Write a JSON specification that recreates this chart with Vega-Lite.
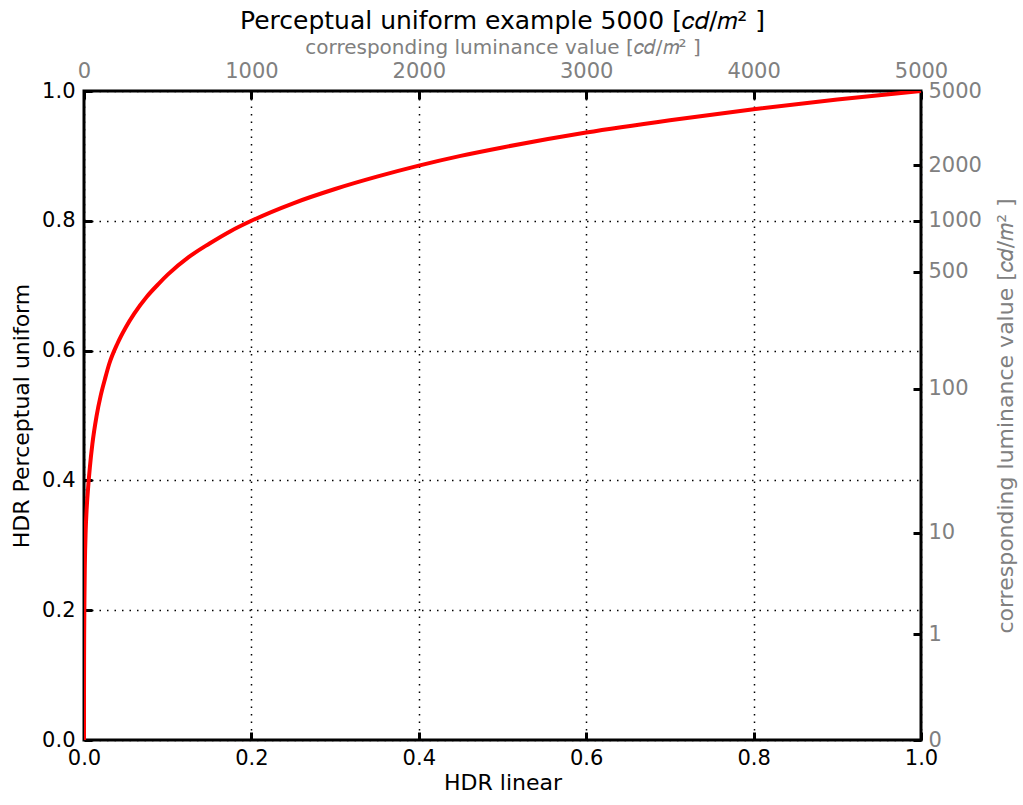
{
  "$schema": "https://vega.github.io/schema/vega-lite/v6.json",
  "width": 837,
  "height": 649,
  "autosize": {"type": "none"},
  "padding": {"left": 84, "top": 91, "right": 102, "bottom": 65},
  "background": "white",
  "title": {
    "text": "Perceptual uniform example 5000 [𝑐𝑑/𝑚² ]",
    "font": "DejaVu Sans",
    "fontSize": 25,
    "fontWeight": "normal",
    "color": "black",
    "anchor": "middle",
    "offset": 3
  },
  "config": {
    "view": {"stroke": "black", "strokeWidth": 3},
    "axis": {
      "domain": false,
      "labelFont": "DejaVu Sans",
      "titleFont": "DejaVu Sans",
      "labelFontSize": 21,
      "titleFontSize": 22,
      "titleFontWeight": "normal",
      "labelColor": "black",
      "titleColor": "black",
      "tickColor": "black",
      "tickSize": -8,
      "tickWidth": 3,
      "labelFlush": false,
      "labelOverlap": false,
      "gridColor": "black",
      "gridWidth": 1.5,
      "gridDash": [1.5, 6],
      "gridOpacity": 1
    }
  },
  "data": {
    "values": [
      {"linear": 0, "pu": 0},
      {"linear": 0.00002, "pu": 0.07},
      {"linear": 0.0001, "pu": 0.13},
      {"linear": 0.0002, "pu": 0.162},
      {"linear": 0.0005, "pu": 0.215},
      {"linear": 0.001, "pu": 0.268},
      {"linear": 0.002, "pu": 0.322},
      {"linear": 0.003, "pu": 0.352},
      {"linear": 0.005, "pu": 0.39},
      {"linear": 0.007, "pu": 0.42},
      {"linear": 0.01, "pu": 0.456},
      {"linear": 0.015, "pu": 0.499},
      {"linear": 0.02, "pu": 0.531},
      {"linear": 0.025, "pu": 0.556},
      {"linear": 0.03, "pu": 0.579},
      {"linear": 0.04, "pu": 0.611},
      {"linear": 0.05, "pu": 0.636},
      {"linear": 0.06, "pu": 0.657},
      {"linear": 0.075, "pu": 0.683},
      {"linear": 0.09, "pu": 0.704},
      {"linear": 0.1, "pu": 0.717},
      {"linear": 0.125, "pu": 0.744},
      {"linear": 0.15, "pu": 0.765},
      {"linear": 0.175, "pu": 0.784},
      {"linear": 0.2, "pu": 0.8},
      {"linear": 0.25, "pu": 0.827},
      {"linear": 0.3, "pu": 0.849},
      {"linear": 0.35, "pu": 0.868},
      {"linear": 0.4, "pu": 0.885},
      {"linear": 0.45, "pu": 0.9},
      {"linear": 0.5, "pu": 0.913},
      {"linear": 0.6, "pu": 0.936},
      {"linear": 0.7, "pu": 0.955},
      {"linear": 0.8, "pu": 0.972},
      {"linear": 0.9, "pu": 0.987},
      {"linear": 1, "pu": 1}
    ]
  },
  "layer": [
    {
      "mark": {"type": "line", "color": "#ff0000", "strokeWidth": 4, "interpolate": "monotone", "clip": true},
      "encoding": {
        "x": {
          "field": "linear",
          "type": "quantitative",
          "scale": {"domain": [0, 1], "nice": false, "zero": false},
          "axis": {
            "orient": "bottom",
            "title": "HDR linear",
            "values": [0, 0.2, 0.4, 0.6, 0.8, 1],
            "format": ".1f",
            "grid": true,
            "labelPadding": 15,
            "titlePadding": 4
          }
        },
        "y": {
          "field": "pu",
          "type": "quantitative",
          "scale": {"domain": [0, 1], "nice": false, "zero": false},
          "axis": {
            "orient": "left",
            "title": "HDR Perceptual uniform",
            "values": [0, 0.2, 0.4, 0.6, 0.8, 1],
            "format": ".1f",
            "grid": true,
            "labelPadding": 17,
            "titlePadding": 8
          }
        }
      }
    },
    {
      "mark": {"type": "line", "opacity": 0, "interpolate": "monotone"},
      "encoding": {
        "x": {
          "field": "linear",
          "type": "quantitative",
          "axis": {
            "orient": "top",
            "title": "corresponding luminance value [𝑐𝑑/𝑚² ]",
            "titleColor": "#808080",
            "labelColor": "#808080",
            "titleFontSize": 20,
            "labelFontSize": 21,
            "values": [0, 0.2, 0.4, 0.6, 0.8, 1],
            "labelExpr": "format(datum.value * 5000, 'd')",
            "grid": false,
            "labelPadding": 18,
            "titlePadding": 3
          }
        },
        "y": {
          "field": "pu",
          "type": "quantitative",
          "axis": {
            "orient": "right",
            "title": "corresponding luminance value [𝑐𝑑/𝑚² ]",
            "titleColor": "#808080",
            "labelColor": "#808080",
            "titleAngle": 270,
            "values": [0, 0.1626, 0.319, 0.541, 0.7215, 0.8, 0.8857, 1],
            "labelExpr": "['0', '1', '10', '100', '500', '1000', '2000', '5000'][indexof([0, 0.1626, 0.319, 0.541, 0.7215, 0.8, 0.8857, 1], datum.value)]",
            "grid": false,
            "labelPadding": 15,
            "titlePadding": 36
          }
        }
      }
    }
  ],
  "resolve": {"axis": {"x": "independent", "y": "independent"}}
}
